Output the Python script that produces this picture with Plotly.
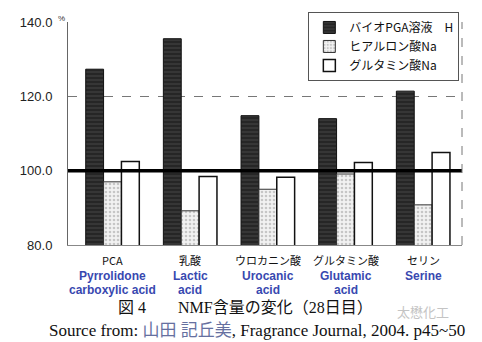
import plotly.graph_objects as go

categories_jp = ["PCA", "乳酸", "ウロカニン酸", "グルタミン酸", "セリン"]
en_line1 = ["Pyrrolidone", "Lactic", "Urocanic", "Glutamic", "Serine"]
en_line2 = ["carboxylic acid", "acid", "acid", "acid", ""]
series_names = ["バイオPGA溶液　H", "ヒアルロン酸Na", "グルタミン酸Na"]
pga_values = [127.3, 135.5, 114.8, 114.0, 121.4]
hya_values = [97.0, 89.2, 95.0, 99.1, 90.8]
glu_values = [102.5, 98.4, 98.2, 102.2, 104.9]
y_ticks = [80, 100, 120, 140]
reference_level = 100

JP = "Noto Sans CJK JP"
SANS = "Liberation Sans, Arial, " + JP
SERIF = "Liberation Serif, DejaVu Serif, " + JP

fig = go.Figure()
fig.add_trace(go.Bar(
    x=categories_jp, y=pga_values, name=series_names[0],
    marker=dict(color="#262626", line=dict(color="#111", width=1),
                pattern=dict(shape="-", fgcolor="#777", size=4, solidity=0.2)),
))
fig.add_trace(go.Bar(
    x=categories_jp, y=hya_values, name=series_names[1],
    marker=dict(color="#f2f2f2", line=dict(color="#333", width=1),
                pattern=dict(shape=".", fgcolor="#9a9a9a", bgcolor="#f2f2f2", size=4, solidity=0.35)),
))
fig.add_trace(go.Bar(
    x=categories_jp, y=glu_values, name=series_names[2],
    marker=dict(color="white", line=dict(color="#111", width=1.5)),
))

fig.add_shape(type="line", xref="paper", x0=0, x1=1, yref="y",
              y0=reference_level, y1=reference_level,
              line=dict(color="black", width=3.5))
fig.add_shape(type="line", xref="paper", x0=1, x1=1, yref="paper", y0=0, y1=1,
              line=dict(color="#777", width=1, dash="dash"))

ann = []
for i, c in enumerate(categories_jp):
    ann.append(dict(x=c, xref="x", y=-0.068, yref="paper", text=c, showarrow=False,
                    font=dict(family=JP, size=11, color="#111"), yanchor="middle",
                    borderpad=0))
    ann.append(dict(x=c, xref="x", y=-0.14, yref="paper", text="<b>%s</b>" % en_line1[i],
                    showarrow=False, font=dict(family=SANS, size=12, color="#3848b0"),
                    yanchor="middle", borderpad=0))
    if en_line2[i]:
        ann.append(dict(x=c, xref="x", y=-0.2, yref="paper", text="<b>%s</b>" % en_line2[i],
                        showarrow=False, font=dict(family=SANS, size=12, color="#3848b0"),
                        yanchor="middle", borderpad=0))

ann.append(dict(x=-0.03, y=1.045, xref="paper", yref="paper", text="%", showarrow=False,
                font=dict(family=SANS, size=8, color="#333")))
ann.append(dict(x=0.45, y=-0.28, xref="paper", yref="paper", yanchor="middle",
                text="図 4　　NMF含量の変化（28日目）", showarrow=False, borderpad=0,
                font=dict(family=SERIF, size=16, color="#111")))
ann.append(dict(x=0.48, y=-0.385, xref="paper", yref="paper", yanchor="middle",
                text="Source from: <span style='color:#6670a0'>山田 記丘美</span>, Fragrance Journal, 2004. p45~50",
                showarrow=False, font=dict(family=SERIF, size=17, color="#111"), borderpad=0))
ann.append(dict(x=0.97, y=-0.3, xref="paper", yref="paper", yanchor="middle", text="太懋化工",
                showarrow=False, font=dict(family=JP, size=13, color="#c4c4c4"), borderpad=0))

fig.update_layout(
    width=482, height=342,
    margin=dict(l=68, r=20, t=15, b=97),
    paper_bgcolor="white", plot_bgcolor="white",
    barmode="group", bargap=0.31, bargroupgap=0,
    showlegend=True,
    legend=dict(x=0.61, y=1.045, xanchor="left", yanchor="top",
                bgcolor="white", bordercolor="#555", borderwidth=1,
                font=dict(family=JP, size=12, color="#111"),
                itemwidth=30, tracegroupgap=0),
    annotations=ann,
    xaxis=dict(showticklabels=False, showgrid=False, showline=True, linecolor="#888",
               linewidth=1, ticks="", zeroline=False),
    yaxis=dict(range=[80, 140], tickvals=y_ticks, tickformat=".1f",
               showgrid=True, gridcolor="#777", griddash="dash", gridwidth=1,
               showline=True, linecolor="#666", linewidth=1, ticks="",
               zeroline=False, ticklabelstandoff=12,
               tickfont=dict(family=SANS, size=13, color="#222")),
)

fig.write_html("out.html")
